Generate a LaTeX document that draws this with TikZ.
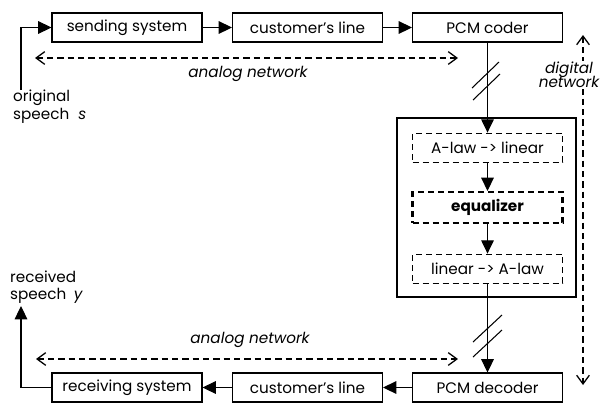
\documentclass[tikz,border=0pt]{standalone}
\usepackage{fontspec}
\setmainfont{Poppins}
\usetikzlibrary{arrows.meta}
\newcommand{\diagfont}{\fontsize{13}{15}\selectfont}

\begin{document}
\begin{tikzpicture}[x=0.3mm,y=-0.3mm,font=\diagfont,
    blk/.style={draw,line width=0.9pt,minimum width=45mm,minimum height=8.7mm,inner sep=0pt},
    dblk/.style={blk,line width=0.7pt,dash pattern=on 1.8mm off 1.2mm},
    eqblk/.style={dblk,line width=1.8pt,font=\diagfont\bfseries},
    flow/.style={line width=0.9pt,-{Triangle[length=4mm,width=3.8mm]}},
    net/.style={line width=1.1pt,dash pattern=on 1.9mm off 1.2mm,{Straight Barb[length=2.6mm,width=3.8mm]}-{Straight Barb[length=2.6mm,width=3.8mm]}},
    lbl/.style={font=\diagfont\itshape}]
    \useasboundingbox (0,0) rectangle (601,403);
    % top row
    \node[blk] (send) at (127,27.5) {sending system};
    \node[blk] (custA) at (307.5,27.5) {customer's line};
    \node[blk] (coder) at (487.5,27.5) {PCM coder};
    % bottom row
    \node[blk] (recv) at (127,387.5) {receiving system};
    \node[blk] (custB) at (307.5,387.5) {customer's line};
    \node[blk] (decoder) at (487.5,387.5) {PCM decoder};
    % digital part
    \draw[line width=0.9pt] (397,118) rectangle (576,297);
    \node[dblk] (atolin) at (487.5,147.5) {A-law -> linear};
    \node[eqblk,minimum height=9.3mm] (eq) at (487.5,207.5) {equalizer};
    \node[dblk] (lintoa) at (487.5,268.5) {linear -> A-law};
    % speech in and out
    \node[align=left,anchor=north west,inner sep=0pt] (orig) at (13,90) {original\\speech\hspace{0.6em}\textit{s}};
    \node[align=left,anchor=south west,inner sep=0pt] (rcvd) at (10,304) {received\\speech\hspace{0.5em}\textit{y}};
    \coordinate (sin) at (21,90);
    \coordinate (sout) at (21,306);
    \draw[flow] (sin) |- (send.west);
    \draw[flow] (recv.west) -| (sout);
    % signal path
    \draw[flow] (send) -- (custA);
    \draw[flow] (custA) -- (coder);
    \draw[flow] (coder) -- (atolin);
    \draw[flow] (atolin) -- (eq);
    \draw[flow] (eq) -- (lintoa);
    \draw[flow] (lintoa) -- (decoder);
    \draw[flow] (decoder) -- (custB);
    \draw[flow] (custB) -- (recv);
    % breaks
    \draw[line width=0.9pt] (472,88) -- ++(27,-26);
    \draw[line width=0.9pt] (473,100) -- ++(27,-26);
    \draw[line width=0.9pt] (473,342) -- ++(29,-27);
    \draw[line width=0.9pt] (473,357) -- ++(29,-27);
    % networks
    \coordinate (anAl) at (35,58);
    \coordinate (anAr) at (458,58);
    \coordinate (anBl) at (36,359);
    \coordinate (anBr) at (458,359);
    \coordinate (digT) at (583,35);
    \coordinate (digB) at (583,385);
    \draw[net] (anAl) -- (anAr);
    \draw[net] (anBl) -- (anBr);
    \draw[net] (digT) -- (digB);
    \node[lbl] (anAlbl) at (248,74) {analog network};
    \node[lbl] (anBlbl) at (250,340) {analog network};
    \node[lbl,fill=white,align=center,inner sep=1pt] (diglbl) at (569,75) {digital\\[-3pt]network};
\end{tikzpicture}
\end{document}
